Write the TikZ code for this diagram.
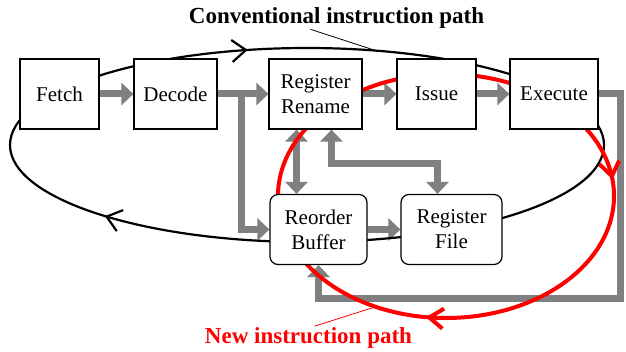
\documentclass[tikz,border=0pt]{standalone}
\usepackage{fontspec}
\setmainfont{Liberation Serif}
\usetikzlibrary{arrows.meta,decorations.markings}

\pgfdeclarelayer{flows}
\pgfdeclarelayer{loops}
\pgfsetlayers{flows,loops,main}

\tikzset{
  unit/.style={draw, line width=0.6pt, fill=white, minimum height=35pt,
    align=center, inner sep=1pt, font=\fontsize{10.5}{12.5}\selectfont},
  store/.style={unit, rounded corners=4pt},
  flow/.style={draw=gray, line width=3.5pt, -{Triangle[length=6pt,width=11pt]}},
  flowboth/.style={flow, {Triangle[length=6pt,width=11pt]}-{Triangle[length=6pt,width=11pt]}},
  tag/.style={inner sep=0.5pt, font=\fontsize{11.5}{13}\selectfont\bfseries},
  oldroute/.style={line width=1.1pt, postaction={decorate, decoration={markings,
      mark=at position 0.405 with {\arrow{Straight Barb[length=7pt,width=11pt]}},
      mark=at position 0.705 with {\arrow{Straight Barb[length=7pt,width=11pt]}}}}},
  newroute/.style={red, line width=2pt, postaction={decorate, decoration={markings,
      mark=at position 0.272 with {\arrow{Straight Barb[length=7pt,width=10pt]}},
      mark=at position 0.982 with {\arrow{Straight Barb[length=7pt,width=10pt]}}}}},
}

\begin{document}
\begin{tikzpicture}[x=0.5pt,y=-0.5pt]
\useasboundingbox (0,0) rectangle (626,352);

% pipeline stages
\node[unit, minimum width=39.5pt] (fetch)   at (59.5,94)  {Fetch};
\node[unit, minimum width=41.5pt] (decode)  at (175.5,94) {Decode};
\node[unit, minimum width=46.5pt] (rename)  at (315.5,94) {Register\\Rename};
\node[unit, minimum width=39.5pt] (issue)   at (436.5,94) {Issue};
\node[unit, minimum width=44pt]   (execute) at (554,94)   {Execute};

\node[store, minimum width=48.5pt] (rob)     at (318.5,229.5) {Reorder\\Buffer};
\node[store, minimum width=50.5pt] (regfile) at (451.5,229.5) {Register\\File};

\begin{pgfonlayer}{flows}
\draw[flow] (fetch) -- (decode);
\draw[flow] (decode) -- (rename);
\draw[flow] (rename) -- (issue);
\draw[flow] (issue) -- (execute);
\draw[flow] (rob) -- (regfile);

\coordinate (split) at (241,94);
\draw[flow] (split) |- (rob.west);

\draw[flowboth] ([xshift=-9.5pt]rename.south) -- ([xshift=-9.5pt]rename.south |- rob.north);
\draw[flowboth] ([xshift=8pt]rename.south) -- ++(0,34) -| ([xshift=-7pt]regfile.north);

\coordinate (back) at (620,298);
\draw[flow] (execute.east) -| (back) -| (rob.south);
\end{pgfonlayer}

\begin{pgfonlayer}{loops}
\draw[oldroute] (307,145) ellipse [x radius=297, y radius=97];
\draw[newroute] (446,196) ellipse [x radius=168, y radius=122];
\end{pgfonlayer}

% path labels
\node[tag] (oldtag) at (336.5,17.5) {Conventional instruction path};
\coordinate (oldpin) at (377,51);
\draw[line width=0.4pt] ([xshift=-13pt]oldtag.south) -- (oldpin);

\node[tag, red] (newtag) at (308.5,338) {New instruction path};
\coordinate (newpin) at (375,307);
\draw[red, line width=0.4pt] ([xshift=3pt]newtag.north) -- (newpin);
\end{tikzpicture}
\end{document}
